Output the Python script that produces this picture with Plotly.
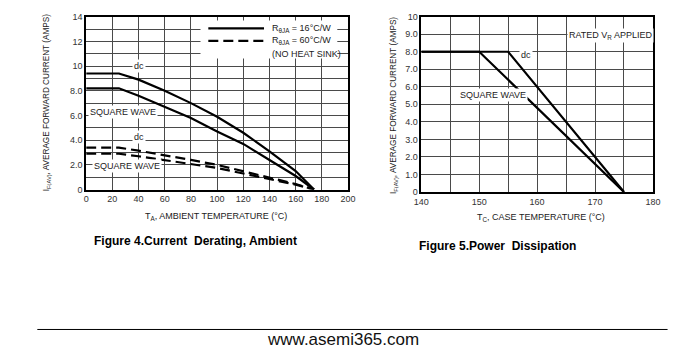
import plotly.graph_objects as go

# ---------------- Figure 4 data (ambient derating) ----------------
amb_temp = [0, 25, 40, 60, 80, 100, 120, 140, 160, 174]
dc_16 = [9.4, 9.4, 8.9, 8.0, 7.0, 5.9, 4.6, 3.1, 1.5, 0]
sq_16 = [8.2, 8.2, 7.6, 6.7, 5.8, 4.7, 3.7, 2.4, 1.1, 0]
dc_60 = [3.4, 3.4, 3.15, 2.8, 2.4, 2.0, 1.5, 0.95, 0.45, 0]
sq_60 = [2.9, 2.9, 2.7, 2.4, 2.1, 1.75, 1.3, 0.85, 0.4, 0]

amb_xticks = [0, 20, 40, 60, 80, 100, 120, 140, 160, 180, 200]
amb_yticks = [0, 2, 4, 6, 8, 10, 12, 14]
amb_yticklabels = ["0", "2.0", "4.0", "6.0", "8.0", "10", "12", "14"]

# ---------------- Figure 5 data (case temperature) ----------------
case_temp_dc = [140, 155, 175]
case_dc = [8.0, 8.0, 0]
case_temp_sq = [140, 150, 175]
case_sq = [8.0, 8.0, 0]

case_xticks = [140, 150, 160, 170, 180]
case_yticks = [0, 1, 2, 3, 4, 5, 6, 7, 8, 9, 10]
case_yticklabels = ["0", "1.0", "2.0", "3.0", "4.0", "5.0", "6.0", "7.0", "8.0", "9.0", "10"]

FONT = "Liberation Sans, Arial, sans-serif"
NARROW = "Liberation Sans Narrow, Arial Narrow, Liberation Sans, sans-serif"
GRID = "#4a4a4a"

fig = go.Figure()

line_solid = dict(color="black", width=2.2)
line_dash = dict(color="black", width=2.2, dash="10px,5px")

fig.add_trace(go.Scatter(x=amb_temp, y=dc_16, mode="lines", line=line_solid, xaxis="x", yaxis="y", showlegend=False))
fig.add_trace(go.Scatter(x=amb_temp, y=sq_16, mode="lines", line=line_solid, xaxis="x", yaxis="y", showlegend=False))
fig.add_trace(go.Scatter(x=amb_temp, y=dc_60, mode="lines", line=line_dash, xaxis="x", yaxis="y", showlegend=False))
fig.add_trace(go.Scatter(x=amb_temp, y=sq_60, mode="lines", line=line_dash, xaxis="x", yaxis="y", showlegend=False))

fig.add_trace(go.Scatter(x=case_temp_dc, y=case_dc, mode="lines", line=line_solid, xaxis="x2", yaxis="y2", showlegend=False))
fig.add_trace(go.Scatter(x=case_temp_sq, y=case_sq, mode="lines", line=line_solid, xaxis="x2", yaxis="y2", showlegend=False))

tickfont = dict(family=FONT, size=9, color="#333")
axis_common = dict(
    showgrid=True, gridcolor=GRID, gridwidth=1,
    showline=True, linecolor="black", linewidth=1.5, mirror=True,
    zeroline=False, ticks="", tickfont=tickfont, fixedrange=True,
)

fig.update_layout(
    width=700, height=351,
    margin=dict(l=0, r=0, t=0, b=0),
    paper_bgcolor="white", plot_bgcolor="white",
    font=dict(family=FONT, color="#222"),
    xaxis=dict(domain=[80/700, 348/700], range=[0, 200], tickvals=amb_xticks,
               anchor="y", **axis_common),
    yaxis=dict(domain=[1-190/351, 1-12/351], range=[0, 14], tickvals=list(range(0, 15)),
               ticktext=[amb_yticklabels[amb_yticks.index(v)] if v in amb_yticks else "" for v in range(0, 15)],
               anchor="x", **axis_common),
    xaxis2=dict(domain=[423/700, 660/700], range=[140, 180], tickvals=list(range(140, 181, 5)),
                ticktext=[str(v) if v in case_xticks else "" for v in range(140, 181, 5)],
                anchor="y2", **axis_common),
    yaxis2=dict(domain=[1-192.5/351, 1-12/351], range=[0, 10], tickvals=case_yticks,
                ticktext=case_yticklabels, anchor="x2", **axis_common),
)

ann = []
def t(x, y, text, size=9, xref="paper", yref="paper", bg=None, family=FONT, color="#222", **kw):
    d = dict(x=x, y=y, text=text, xref=xref, yref=yref, showarrow=False,
             xanchor="center", yanchor="middle",
             font=dict(family=family, size=size, color=color))
    if bg:
        d["bgcolor"] = bg
        d["borderpad"] = 1
    d.update(kw)
    ann.append(d)

# labels inside Figure 4
t(40, 10.0, "dc", xref="x", yref="y", bg="white")
t(28, 6.3, "SQUARE WAVE", xref="x", yref="y", bg="white")
t(40, 4.25, "dc", xref="x", yref="y", bg="white")
t(31, 1.9, "SQUARE WAVE", xref="x", yref="y", bg="white")

# legend box of Figure 4 (key, not data)
shapes = [
    dict(type="rect", xref="x domain", yref="y domain", x0=(197-80)/268, x1=(337-80)/268,
         y0=(190-55)/178, y1=(190-16)/178, fillcolor="white", line=dict(width=0), layer="above"),
    dict(type="line", xref="x domain", yref="y domain", x0=(205-80)/268, x1=(262-80)/268,
         y0=(190-24)/178, y1=(190-24)/178, line=dict(color="black", width=2.2), layer="above"),
    dict(type="line", xref="x domain", yref="y domain", x0=(205-80)/268, x1=(262-80)/268,
         y0=(190-37)/178, y1=(190-37)/178, line=dict(color="black", width=2.2, dash="10px,5px"), layer="above"),
    # bottom rule
    dict(type="line", xref="paper", yref="paper", x0=30/700, x1=675/700, y0=1-334/351, y1=1-334/351,
         line=dict(color="black", width=1)),
]
t(268/700, 1-24/351, "R<sub>θJA</sub> = 16°C/W", xanchor="left")
t(268/700, 1-37/351, "R<sub>θJA</sub> = 60°C/W", xanchor="left")
t(268/700, 1-50/351, "(NO HEAT SINK)", xanchor="left")

# labels inside Figure 5
t(158, 7.8, "dc", xref="x2", yref="y2", bg="white")
t(152.3, 5.55, "SQUARE WAVE", xref="x2", yref="y2", bg="white")
t(172.7, 8.95, "RATED V<sub>R</sub> APPLIED", xref="x2", yref="y2", bg="white")

# axis titles
t(213/700, 1-218/351, "T<sub>A</sub>, AMBIENT TEMPERATURE (°C)", size=9, family=NARROW)
t(545/700, 1-219/351, "T<sub>C</sub>, CASE TEMPERATURE (°C)", size=9, family=NARROW)
t(40/700, 1-101/351, "I<sub>F(AV)</sub>, AVERAGE FORWARD CURRENT (AMPS)", size=8.2, family=NARROW, textangle=-90)
t(395/700, 1-103/351, "I<sub>F(AV)</sub>, AVERAGE FORWARD CURRENT (AMPS)", size=8.2, family=NARROW, textangle=-90)

# figure captions
t(192/700, 1-243/351, "<b>Figure 4.Current  Derating, Ambient</b>", size=12, color="black")
t(501/700, 1-248/351, "<b>Figure 5.Power  Dissipation</b>", size=12, color="black")
t(343/700, 1-344/351, "www.asemi365.com", size=17, color="#111")

fig.update_layout(annotations=ann, shapes=shapes)
fig.write_html("out.html")
